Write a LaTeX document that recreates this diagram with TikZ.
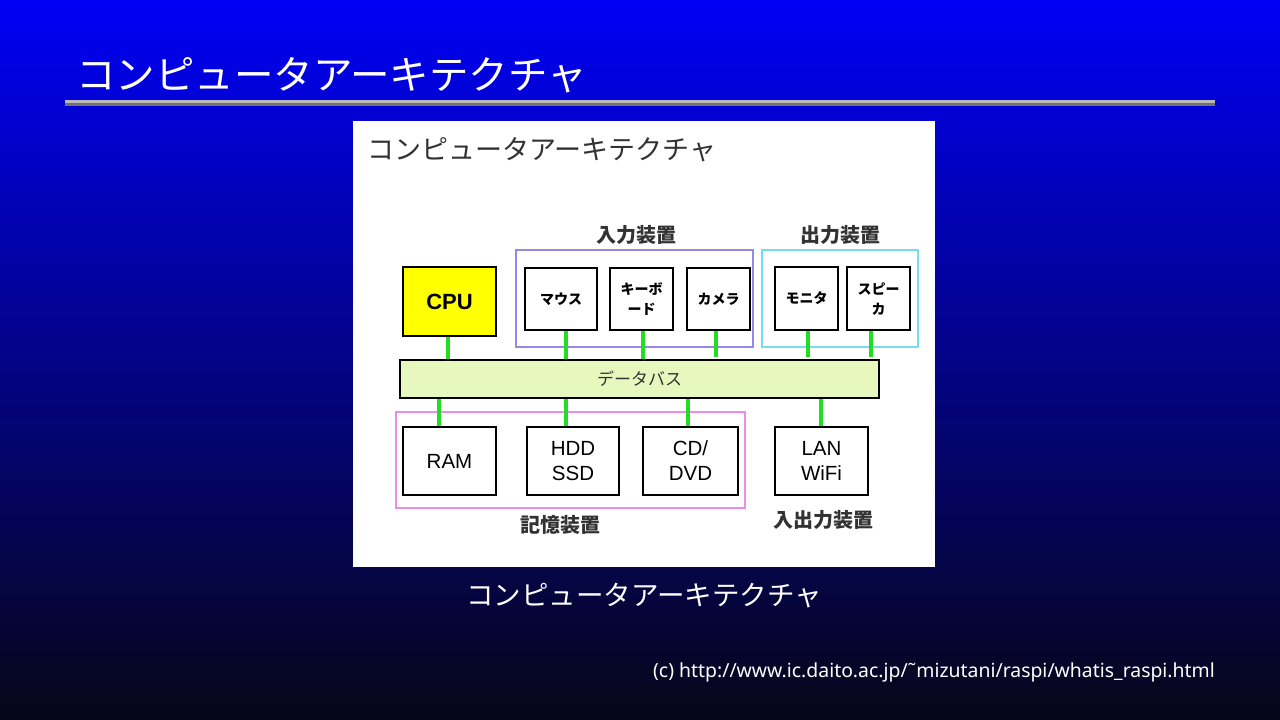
\documentclass[tikz,border=0pt]{standalone}
\usepackage{fontspec}
\setmainfont{Liberation Sans}
\newfontfamily\jp{Noto Sans CJK JP}
\newfontfamily\nsans{Noto Sans}
\definecolor{bgtop}{RGB}{0,0,245}
\definecolor{bgmid}{RGB}{0,0,140}
\definecolor{bgbot}{RGB}{6,6,24}
\definecolor{busgreen}{RGB}{34,221,34}
\definecolor{busfill}{RGB}{230,248,190}
\definecolor{inpurple}{RGB}{150,135,235}
\definecolor{outcyan}{RGB}{120,220,240}
\definecolor{mempink}{RGB}{238,140,238}
\definecolor{cpuyellow}{RGB}{255,255,0}
\definecolor{textgray}{RGB}{50,50,50}
\tikzset{
  devbox/.style={draw=black, line width=1.3pt, fill=white, inner sep=0pt, align=center},
  jpbox/.style={devbox, line width=1.6pt, font=\jp\bfseries\fontsize{14}{20}\selectfont},
  enbox/.style={devbox, font=\fontsize{20.5}{25}\selectfont},
  grpbox/.style={line width=2pt},
  grplabel/.style={font=\jp\bfseries\fontsize{20}{20}\selectfont, text=textgray, inner sep=0pt},
  link/.style={draw=busgreen, line width=4pt},
}
\begin{document}
\begin{tikzpicture}[x=1pt,y=-1pt]
\useasboundingbox (0,0) rectangle (1280,720);
\shade[top color=bgtop, middle color=bgmid, bottom color=bgbot] (0,0) rectangle (1280,720);
% title
\node[anchor=west, text=white, inner sep=0pt, font=\jp\fontsize{39.5}{40}\selectfont] (title) at (76,75) {コンピュータアーキテクチャ};
\fill[gray!55] (65,100) rectangle (1215,103);
\fill[gray!90!black] (65,103) rectangle (1215,106);
% white panel
\fill[white] (353,121) rectangle (935,567);
\node[anchor=west, text=textgray, inner sep=0pt, font=\jp\fontsize{27}{27}\selectfont] (ptitle) at (367,150) {コンピュータアーキテクチャ};
% group boxes
\draw[grpbox, draw=inpurple] (516,250) rectangle (753,347);
\draw[grpbox, draw=outcyan] (762,250) rectangle (918,347);
\draw[grpbox, draw=mempink] (396,412) rectangle (745,508);
\node[grplabel] (inlbl) at (636,235) {入力装置};
\node[grplabel] (outlbl) at (840,235) {出力装置};
\node[grplabel] (memlbl) at (560,525) {記憶装置};
\node[grplabel] (iolbl) at (823,520) {入出力装置};
% bus
\node[draw=black, line width=2pt, fill=busfill, minimum width=479pt, minimum height=38pt, inner sep=0pt,
  font=\jp\fontsize{17}{17}\selectfont, text=textgray] (bus) at (639.5,379) {データバス};
% devices
\node[devbox, fill=cpuyellow, minimum width=93pt, minimum height=69pt, font=\bfseries\fontsize{22}{24}\selectfont] (cpu) at (449.5,301.5) {CPU};
\node[jpbox, minimum width=72pt, minimum height=62pt] (mouse) at (561,299) {マウス};
\node[jpbox, minimum width=63pt, minimum height=62pt] (kbd) at (641.5,299) {キーボ\\ード};
\node[jpbox, minimum width=63pt, minimum height=62pt] (cam) at (718.5,299) {カメラ};
\node[devbox, font=\jp\bfseries\fontsize{14}{20}\selectfont, minimum width=63pt, minimum height=63pt] (mon) at (806.5,298.5) {モニタ};
\node[devbox, font=\jp\bfseries\fontsize{14}{20}\selectfont, minimum width=63pt, minimum height=63pt] (spk) at (878.5,298.5) {スピー\\カ};
\node[enbox, minimum width=93pt, minimum height=68pt] (ram) at (449.5,461) {RAM};
\node[enbox, minimum width=92pt, minimum height=68pt] (hdd) at (573,461) {HDD\\SSD};
\node[enbox, minimum width=95pt, minimum height=68pt] (cd) at (690.5,461) {CD/\\DVD};
\node[enbox, minimum width=93pt, minimum height=68pt] (lan) at (821.5,461) {LAN\\WiFi};
% links
\draw[link] (cpu.south -| 448,0) -- (bus.north -| 448,0);
\draw[link] (mouse.south -| 566,0) -- (bus.north -| 566,0);
\draw[link] (kbd.south -| 643,0) -- (bus.north -| 643,0);
\coordinate (camend) at (716,357);
\draw[link] (cam.south -| 716,0) -- (camend);
\coordinate (monend) at (808,357);
\draw[link] (mon.south -| 808,0) -- (monend);
\coordinate (spkend) at (871,357);
\draw[link] (spk.south -| 871,0) -- (spkend);
\draw[link] (bus.south -| 439,0) -- (ram.north -| 439,0);
\draw[link] (bus.south -| 566,0) -- (hdd.north -| 566,0);
\draw[link] (bus.south -| 688,0) -- (cd.north -| 688,0);
\draw[link] (bus.south -| 821,0) -- (lan.north -| 821,0);
% caption
\node[text=white, inner sep=0pt, font=\jp\fontsize{27.5}{28}\selectfont] (caption) at (644,596) {コンピュータアーキテクチャ};
\node[anchor=east, text=white, inner sep=0pt, font=\nsans\fontsize{19.4}{20}\selectfont] (credit) at (1215,672) {(c) http://www.ic.daito.ac.jp/˜mizutani/raspi/whatis\_raspi.html};
\end{tikzpicture}
\end{document}
